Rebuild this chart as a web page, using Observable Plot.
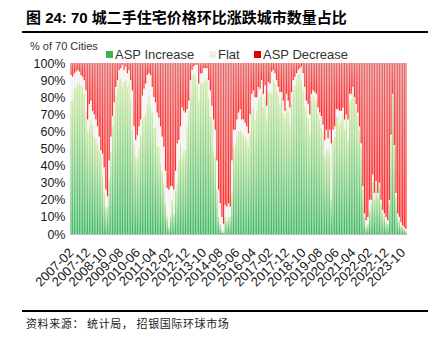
<!DOCTYPE html>
<html><head><meta charset="utf-8">
<script src="https://cdn.jsdelivr.net/npm/d3@7"></script>
<script src="https://cdn.jsdelivr.net/npm/@observablehq/plot@0.6"></script>
<style>
body{margin:0;background:#fff;}
#wrap{position:relative;width:434px;height:337px;overflow:hidden;font-family:"Liberation Sans",Arial,sans-serif;color:#222;}
#title{position:absolute;left:26px;top:9px;font-family:"Liberation Sans","Noto Sans CJK SC",sans-serif;font-weight:bold;font-size:15px;line-height:17px;color:#000;white-space:nowrap;}
.rule{position:absolute;left:22px;width:406px;height:2px;background:#000;}
#unit{position:absolute;left:30px;top:40px;font-size:11px;line-height:12px;color:#333;white-space:nowrap;}
.lg{position:absolute;top:48px;font-size:13px;line-height:14px;color:#333;white-space:nowrap;}
.sw{display:inline-block;width:7px;height:7px;margin-right:2px;vertical-align:1px;}
#src{position:absolute;left:26px;top:317px;font-family:"Noto Sans CJK SC",sans-serif;font-size:11px;line-height:13px;letter-spacing:0.6px;color:#222;white-space:nowrap;}
#chart{position:absolute;left:0;top:56px;}
</style></head>
<body>
<div id="wrap">
  <div id="title">图 24: 70 城二手住宅价格环比涨跌城市数量占比</div>
  <div class="rule" style="top:31px"></div>
  <div id="unit">% of 70 Cities</div>
  <div class="lg" style="left:106px"><span class="sw" style="background:#3cb44b"></span>ASP Increase</div>
  <div class="lg" style="left:209px"><span class="sw" style="background:#eeeeee"></span>Flat</div>
  <div class="lg" style="left:254px"><span class="sw" style="background:#e00000"></span>ASP Decrease</div>
  <div id="chart"></div>
  <div class="rule" style="top:310px"></div>
  <div id="src">资料来源： 统计局， 招银国际环球市场</div>
</div>
<script>
// monthly categories, 2007-02 .. 2023-12
const startMonth = "2007-02";
const endMonth = "2023-12";
const seriesNames = ["ASP Increase", "Flat", "ASP Decrease"];
const xTickLabels = ["2007-02","2007-12","2008-10","2009-08","2010-06","2011-04","2012-02","2012-12","2013-10","2014-08","2015-06","2016-04","2017-02","2017-12","2018-10","2019-08","2020-06","2021-04","2022-02","2022-12","2023-10"];
const yTicks = [0,10,20,30,40,50,60,70,80,90,100];

// share of 70 cities (%)
const increase = [
78,78,85,86,88,88,87,86,82,72,
60,63,67,64,57,56,53,49,47,34,
24,16,16,32,48,63,69,81,85,90,
91,86,89,90,86,88,78,61,53,45,
44,50,58,67,69,70,76,81,74,71,
62,63,51,51,41,37,30,18,10,4,
10,20,12,26,30,43,53,45,49,49,
63,72,80,93,94,92,88,78,88,89,
88,90,91,80,69,67,49,45,26,10,
6,2,1,10,8,10,10,24,51,53,
57,60,61,59,58,57,55,51,60,72,
74,67,72,78,80,82,74,80,67,83,
83,82,90,88,84,81,76,80,71,68,
74,71,65,76,84,87,90,93,94,90,
84,75,72,68,59,78,81,79,78,71,
67,62,60,45,49,50,47,20,55,57,
69,68,64,67,70,61,67,55,78,79,
82,79,74,69,61,51,26,10,4,6,
14,18,30,20,29,22,28,18,12,11,
7,6,18,57,81,51,22,10,8,5,
4,3,2];
const flat = [
15,14,9,9,8,7,6,6,8,12,
7,13,11,8,13,11,10,8,2,13,
15,10,6,11,9,6,8,5,5,6,
6,13,7,8,8,8,12,23,10,10,
14,13,9,14,16,18,17,13,19,15,
18,14,20,17,22,20,21,19,17,22,
18,8,14,11,23,12,10,29,23,22,
10,6,10,3,4,7,11,10,6,5,
9,7,6,10,15,8,18,16,17,16,
12,8,5,7,8,8,6,19,10,8,
10,11,12,8,9,8,8,8,10,10,
10,13,8,8,5,8,8,7,8,6,
5,13,6,6,6,5,7,3,7,4,
8,7,9,7,6,5,4,3,3,8,
10,11,6,8,11,4,3,4,4,3,
4,7,4,10,12,6,14,33,6,6,
4,5,8,5,4,6,3,12,4,3,
4,1,2,2,2,2,2,2,4,4,
6,2,5,4,2,2,2,2,2,1,
3,2,2,1,1,1,2,2,2,2,
1,1,1];
const decrease = [
7,8,6,5,4,5,7,8,10,16,
33,24,22,28,30,33,37,43,51,53,
61,74,78,57,43,31,23,14,10,4,
3,1,4,2,6,4,10,16,37,45,
42,37,33,19,15,12,7,6,7,14,
20,23,29,32,37,43,49,63,73,74,
72,72,74,63,47,45,37,26,28,29,
27,22,10,4,2,1,1,12,6,6,
3,3,3,10,16,25,33,39,57,74,
82,90,94,83,84,82,84,57,39,39,
33,29,27,33,33,35,37,41,30,18,
16,20,20,14,15,10,18,13,25,11,
12,5,4,6,10,14,17,17,22,28,
18,22,26,17,10,8,6,4,3,2,
6,14,22,24,30,18,16,17,18,26,
29,31,36,45,39,44,39,47,39,37,
27,27,28,28,26,33,30,33,18,18,
14,20,24,29,37,47,72,88,92,90,
80,80,65,76,69,76,70,80,86,88,
90,92,80,42,18,48,76,88,90,93,
95,96,97];

const fmt = d3.utcFormat("%Y-%m");
const months = d3.utcMonth.range(d3.utcParse("%Y-%m")(startMonth), d3.utcMonth.offset(d3.utcParse("%Y-%m")(endMonth), 1)).map(fmt);

// stack manually: increase at bottom, flat, decrease on top
const rows = months.map((m, i) => ({
  month: m,
  a0: 0, a1: increase[i],
  b0: increase[i], b1: increase[i] + flat[i],
  c0: increase[i] + flat[i], c1: increase[i] + flat[i] + decrease[i]
}));

const chart = Plot.plot({
  width: 434,
  height: 240,
  marginTop: 7,
  marginBottom: 62,
  marginLeft: 70,
  marginRight: 27,
  style: {fontFamily: "'Liberation Sans', Arial, sans-serif", color: "#1a1a1a", background: "transparent"},
  x: {type: "band", domain: months, padding: 0.25, label: null},
  y: {domain: [0, 100], label: null},
  marks: [
    Plot.barY(rows, {x: "month", y1: "a0", y2: "a1", fill: "url(#gGreen)", inset: 0}),
    Plot.barY(rows, {x: "month", y1: "b0", y2: "b1", fill: "#f2f2f2", inset: 0}),
    Plot.barY(rows, {x: "month", y1: "c0", y2: "c1", fill: "url(#gRed)", inset: 0}),
    Plot.ruleY([0], {stroke: "#bfbfbf"}),
    Plot.axisY(yTicks, {tickFormat: d => d + "%", tickSize: 0, tickPadding: 5, fontSize: 12.5, label: null}),
    Plot.axisX(xTickLabels, {tickRotate: -45, tickSize: 0, tickPadding: 16, fontSize: 13, label: null})
  ]
});

const svg = d3.select(chart);
const defs = svg.insert("defs", ":first-child");
const gg = defs.append("linearGradient").attr("id", "gGreen").attr("x1", 0).attr("y1", 1).attr("x2", 0).attr("y2", 0);
gg.append("stop").attr("offset", 0).attr("stop-color", "#3ab560");
gg.append("stop").attr("offset", 1).attr("stop-color", "#cfe9a6");
const gr = defs.append("linearGradient").attr("id", "gRed").attr("x1", 0).attr("y1", 0).attr("x2", 0).attr("y2", 1);
gr.append("stop").attr("offset", 0).attr("stop-color", "#e46a6a");
gr.append("stop").attr("offset", 1).attr("stop-color", "#ff2a2a");

document.getElementById("chart").appendChild(chart);
</script>
</body></html>
